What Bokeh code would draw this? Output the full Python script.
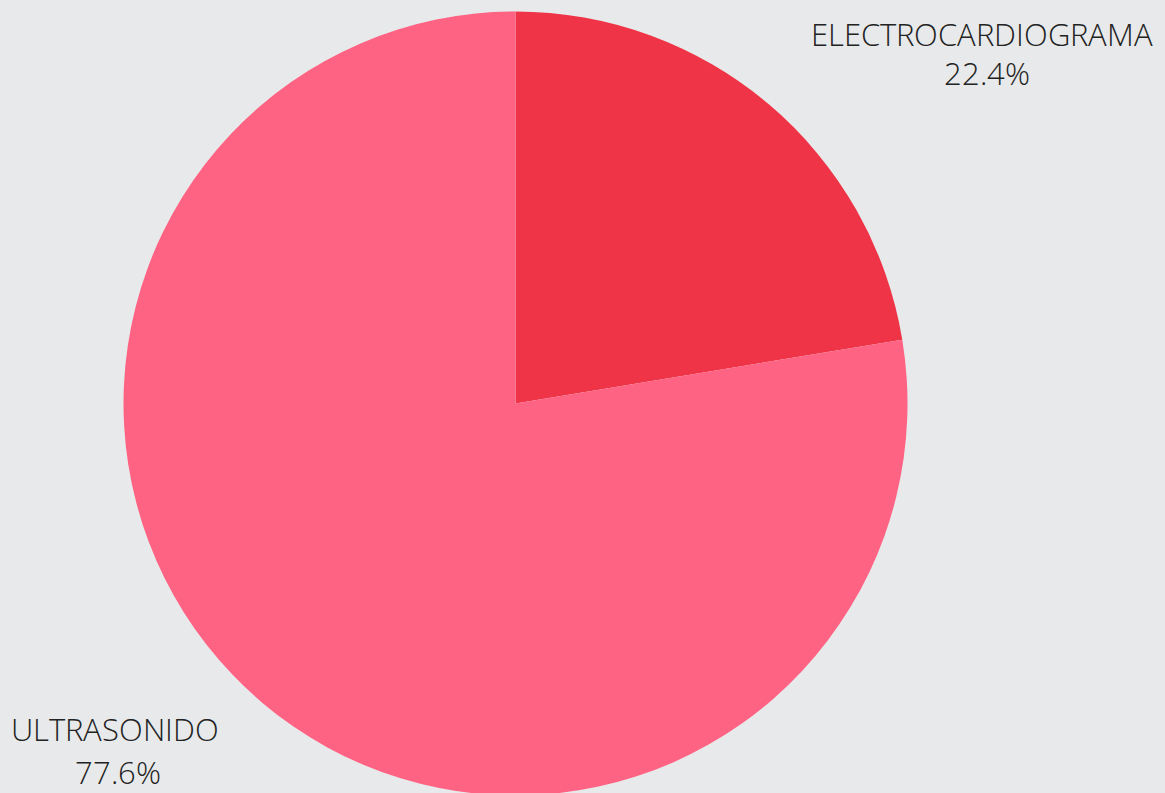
import math
from bokeh.plotting import figure
from bokeh.models import Range1d, ColumnDataSource, GlobalInlineStyleSheet
from bokeh.core.properties import value
from bokeh.embed import file_html
from bokeh.resources import INLINE

# ---- data ----
categories = ["ELECTROCARDIOGRAMA", "ULTRASONIDO"]
shares = [22.4, 77.6]
colors = ["#ef3447", "#ff6384"]
# label anchors (data units, pie radius = 1)
label_x = [1.203, -1.014]
label_y = [0.943, -0.831]
pct_y = [0.843, -0.939]

BG = "#e8e9ea"
W, H = 1165, 793
CX, CY, R = 515, 403, 392  # pie centre / radius in figure pixels

total = sum(shares)
starts, ends = [], []
acc = 0.0
for s in shares:
    starts.append(math.pi / 2 - 2 * math.pi * acc / total)
    acc += s
    ends.append(math.pi / 2 - 2 * math.pi * acc / total)

src = ColumnDataSource(dict(cat=categories, start=starts, end=ends, color=colors))
lab = ColumnDataSource(dict(
    x=label_x, y=label_y, py=pct_y, name=categories,
    pct=[f"{s:.1f}%" for s in shares]))

css = (
    f"html,body{{background:{BG};margin:0;padding:0;overflow:hidden;}}"
    "@font-face{font-family:'OSLight';"
    "src:local('Open Sans Light'),local('OpenSans-Light'),"
    "local('Open Sans Regular'),local('OpenSans-Regular'),local('Open Sans');"
    "font-weight:300;font-style:normal;}"
)

p = figure(width=W, height=H, output_backend="svg", toolbar_location=None,
           x_range=Range1d(-CX / R, (W - CX) / R),
           y_range=Range1d(-(H - CY) / R, CY / R),
           min_border=0)
p.axis.visible = False
p.grid.visible = False
p.outline_line_color = None
p.background_fill_color = BG
p.border_fill_color = BG
p.stylesheets = [GlobalInlineStyleSheet(css=css)]

font = value("OSLight, Open Sans")
p.wedge(x=0, y=0, radius=1, start_angle="start", end_angle="end",
        direction="clock", fill_color="color", line_color=None, source=src)

p.text(x="x", y="y", text="name", source=lab, text_font=font,
       text_font_size="31px", text_color="#222222", text_align="center",
       text_baseline="middle")
p.text(x="x", y="py", text="pct", source=lab, text_font=font,
       text_font_size="31px", text_color="#222222", text_align="center",
       text_baseline="middle")

open("out.html", "w").write(file_html(p, INLINE))
